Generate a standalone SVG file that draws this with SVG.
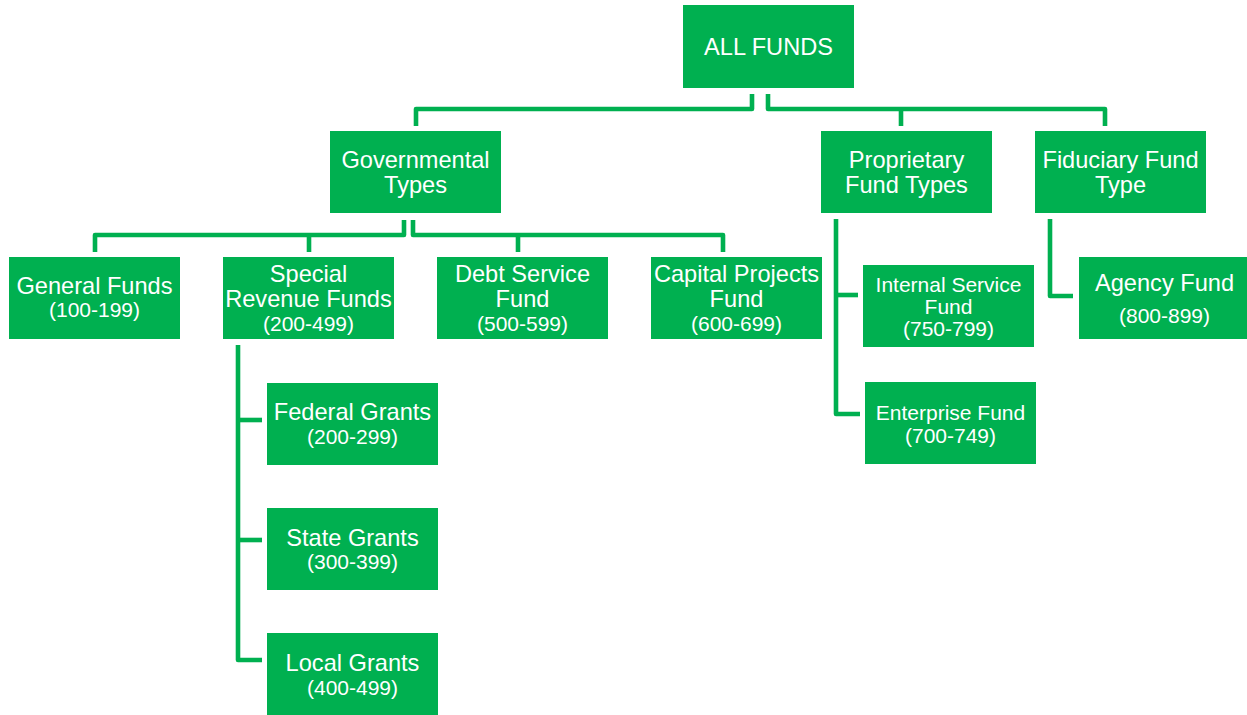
<svg xmlns="http://www.w3.org/2000/svg" width="1247" height="715" viewBox="0 0 1247 715">
<style>
.box{fill:#00B050;}
.t{fill:#ffffff;font-family:"Liberation Sans",Arial,sans-serif;font-size:23.6px;text-anchor:middle;}
.s{fill:#ffffff;font-family:"Liberation Sans",Arial,sans-serif;font-size:21px;text-anchor:middle;}
.c{fill:none;stroke:#00B050;stroke-width:4.6;stroke-linejoin:round;}
</style>
<rect width="1247" height="715" fill="#ffffff"/>
<g id="connectors">
<path class="c" d="M752,94 V109 H416 V126"/>
<path class="c" d="M768,94 V109 H1105 V126"/>
<path class="c" d="M901,109 V126"/>
<path class="c" d="M404,220 V235 H95 V252"/>
<path class="c" d="M413,220 V235 H723 V252"/>
<path class="c" d="M309,235 V252"/>
<path class="c" d="M518,235 V252"/>
<path class="c" d="M238,345 V660 H262"/>
<path class="c" d="M238,420 H262"/>
<path class="c" d="M238,540 H262"/>
<path class="c" d="M836,219 V414 H860"/>
<path class="c" d="M836,295 H858"/>
<path class="c" d="M1050,219 V296 H1073"/>
</g>
<g id="all-funds">
<rect class="box" x="683" y="5" width="171" height="83"/>
<text class="t" x="768.5" y="54.5">ALL FUNDS</text>
</g>
<g id="governmental">
<rect class="box" x="330" y="131" width="171" height="82"/>
<text class="t" x="415.5" y="167.5">Governmental</text>
<text class="t" x="415.5" y="192.5">Types</text>
</g>
<g id="proprietary">
<rect class="box" x="821" y="131" width="171" height="82"/>
<text class="t" x="906.5" y="167.5">Proprietary</text>
<text class="t" x="906.5" y="192.5">Fund Types</text>
</g>
<g id="fiduciary">
<rect class="box" x="1035" y="131" width="171" height="82"/>
<text class="t" x="1120.5" y="167.5">Fiduciary Fund</text>
<text class="t" x="1120.5" y="192.5">Type</text>
</g>
<g id="general">
<rect class="box" x="9" y="257" width="171" height="82"/>
<text class="t" x="94.5" y="294">General Funds</text>
<text class="s" x="94.5" y="317">(100-199)</text>
</g>
<g id="special-revenue">
<rect class="box" x="223" y="257" width="171" height="82"/>
<text class="t" x="308.5" y="282">Special</text>
<text class="t" x="308.5" y="307">Revenue Funds</text>
<text class="s" x="308.5" y="330.5">(200-499)</text>
</g>
<g id="debt-service">
<rect class="box" x="437" y="257" width="171" height="82"/>
<text class="t" x="522.5" y="282">Debt Service</text>
<text class="t" x="522.5" y="307">Fund</text>
<text class="s" x="522.5" y="330.5">(500-599)</text>
</g>
<g id="capital-projects">
<rect class="box" x="651" y="257" width="171" height="82"/>
<text class="t" x="736.5" y="282">Capital Projects</text>
<text class="t" x="736.5" y="307">Fund</text>
<text class="s" x="736.5" y="330.5">(600-699)</text>
</g>
<g id="federal-grants">
<rect class="box" x="267" y="383" width="171" height="82"/>
<text class="t" x="352.5" y="420">Federal Grants</text>
<text class="s" x="352.5" y="443.5">(200-299)</text>
</g>
<g id="state-grants">
<rect class="box" x="267" y="508" width="171" height="82"/>
<text class="t" x="352.5" y="546">State Grants</text>
<text class="s" x="352.5" y="568.5">(300-399)</text>
</g>
<g id="local-grants">
<rect class="box" x="267" y="633" width="171" height="82"/>
<text class="t" x="352.5" y="671">Local Grants</text>
<text class="s" x="352.5" y="694.5">(400-499)</text>
</g>
<g id="internal-service">
<rect class="box" x="863" y="265" width="171" height="82"/>
<text class="s" x="948.5" y="291.5">Internal Service</text>
<text class="s" x="948.5" y="313.5">Fund</text>
<text class="s" x="948.5" y="335.5">(750-799)</text>
</g>
<g id="enterprise">
<rect class="box" x="865" y="382" width="171" height="82"/>
<text class="s" x="950.5" y="419.5">Enterprise Fund</text>
<text class="s" x="950.5" y="442.5">(700-749)</text>
</g>
<g id="agency">
<rect class="box" x="1079" y="257" width="171" height="82"/>
<text class="t" x="1164.5" y="290.5">Agency Fund</text>
<text class="s" x="1164.5" y="322.5">(800-899)</text>
</g>
</svg>
